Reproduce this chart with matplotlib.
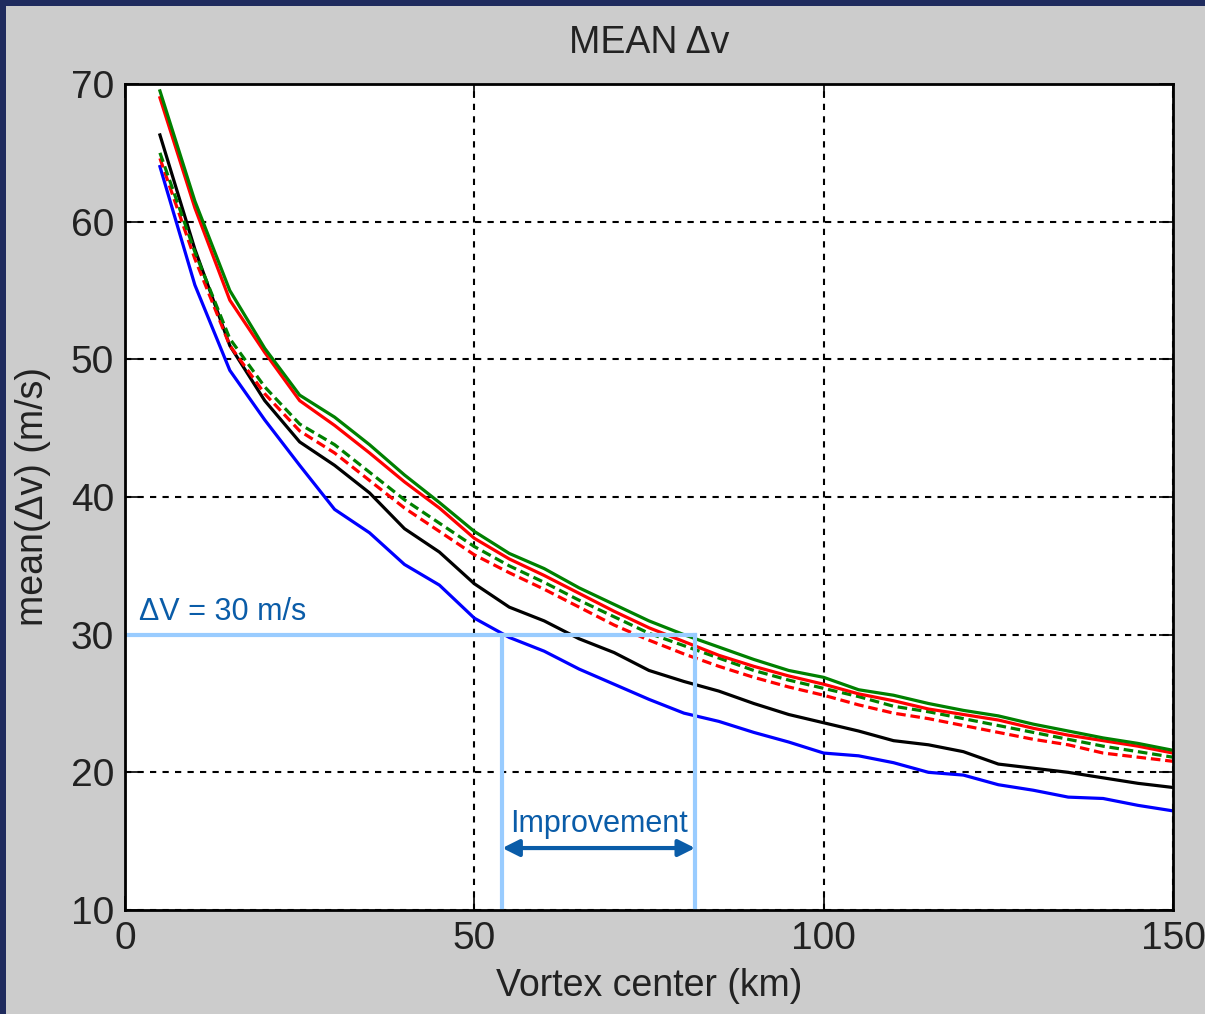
import matplotlib
matplotlib.use("Agg")
import matplotlib.pyplot as plt
from matplotlib.patches import Rectangle

plt.rcParams['font.family'] = ['Liberation Sans', 'DejaVu Sans']

# vortex center distance (km)
dist = [5, 10, 15, 20, 25, 30, 35, 40, 45, 50, 55, 60, 65, 70, 75,
        80, 85, 90, 95, 100, 105, 110, 115, 120, 125, 130, 135, 140, 145, 150]

# mean delta-v (m/s) per series
green_solid = [69.5, 61.5, 55.0, 50.8, 47.4, 45.8, 43.8, 41.6, 39.6, 37.5, 35.9, 34.8, 33.4, 32.2, 31.0,
               30.0, 29.1, 28.2, 27.4, 26.9, 26.0, 25.6, 25.0, 24.5, 24.1, 23.5, 23.0, 22.5, 22.1, 21.6]
red_solid = [69.0, 61.0, 54.3, 50.5, 47.0, 45.2, 43.2, 41.1, 39.2, 37.0, 35.5, 34.3, 33.0, 31.7, 30.5,
             29.5, 28.5, 27.7, 27.0, 26.4, 25.7, 25.2, 24.6, 24.2, 23.8, 23.2, 22.7, 22.3, 21.9, 21.4]
green_dash = [65.0, 57.8, 51.5, 48.0, 45.3, 43.8, 41.8, 39.8, 38.1, 36.4, 35.0, 33.8, 32.5, 31.3, 30.1,
              29.2, 28.3, 27.4, 26.7, 26.1, 25.5, 24.8, 24.4, 23.9, 23.4, 22.9, 22.4, 21.9, 21.5, 21.1]
red_dash = [64.6, 57.3, 51.0, 47.5, 44.8, 43.2, 41.2, 39.2, 37.5, 35.8, 34.5, 33.3, 32.0, 30.7, 29.6,
            28.6, 27.7, 26.9, 26.2, 25.6, 24.9, 24.3, 23.9, 23.4, 22.9, 22.4, 22.0, 21.4, 21.1, 20.8]
black_solid = [66.3, 58.0, 51.0, 47.0, 44.0, 42.3, 40.3, 37.7, 36.0, 33.7, 32.0, 31.0, 29.7, 28.7, 27.4,
               26.6, 25.9, 25.0, 24.2, 23.6, 23.0, 22.3, 22.0, 21.5, 20.6, 20.3, 20.0, 19.6, 19.2, 18.9]
blue_solid = [64.0, 55.4, 49.2, 45.6, 42.3, 39.1, 37.4, 35.1, 33.6, 31.2, 29.8, 28.8, 27.5, 26.4, 25.3,
              24.3, 23.7, 22.9, 22.2, 21.4, 21.2, 20.7, 20.0, 19.8, 19.1, 18.7, 18.2, 18.1, 17.6, 17.2]

# annotation values
dv_level = 30
improve_from = 54.0
improve_to = 81.6

fig = plt.figure(figsize=(12.05, 10.14), dpi=100)
fig.patch.set_facecolor("#1f2b5e")
fig.patches.append(Rectangle((6 / 1205, 0), 1, 1 - 6 / 1014, transform=fig.transFigure,
                             facecolor="#cccccc", edgecolor="none", zorder=-10))

ax = fig.add_axes([125 / 1205, 1 - 910 / 1014, 1048 / 1205, 826 / 1014])
ax.set_zorder(5)
ax.set_facecolor("white")

lw = 2.3
ax.plot(dist, blue_solid, color="#0000ff", lw=lw)
ax.plot(dist, black_solid, color="black", lw=lw)
ax.plot(dist, red_dash, color="#ff0000", lw=lw, ls=(0, (3, 1.5)))
ax.plot(dist, green_dash, color="#008000", lw=lw, ls=(0, (3, 1.5)))
ax.plot(dist, red_solid, color="#ff0000", lw=lw)
ax.plot(dist, green_solid, color="#008000", lw=lw)

# improvement annotation
lc = "#99ccff"
ax.plot([0, improve_to], [dv_level, dv_level], color=lc, lw=3)
ax.plot([improve_from, improve_from], [10, dv_level], color=lc, lw=3)
ax.plot([improve_to, improve_to], [10, dv_level], color=lc, lw=3)
ax.annotate("", xy=(improve_from, 14.5), xytext=(improve_to, 14.5),
            arrowprops=dict(arrowstyle="<|-|>", color="#0a5ca8", lw=3, mutation_scale=25,
                            shrinkA=0, shrinkB=0))
ax.text((improve_from + improve_to) / 2, 15.65, "Improvement", color="#0a5ca8",
        fontsize=22, ha="center", va="baseline")
ax.text(2, 31.1, "ΔV = 30 m/s", color="#0a5ca8", fontsize=22, ha="left", va="baseline")

ax.set_xlim(0, 150)
ax.set_ylim(10, 70)
ax.set_xticks([0, 50, 100, 150])
ax.set_yticks([10, 20, 30, 40, 50, 60, 70])
ax.grid(True, color="black", ls=(0, (3, 3)), lw=1.5)
ax.tick_params(direction="in", length=10, width=1.2, labelsize=28, colors="black",
               labelcolor="#222222", top=True, right=True, pad=8)
for s in ax.spines.values():
    s.set_linewidth(2)

ax.set_title("MEAN Δv", fontsize=27, pad=22, color="#222222")
ax.set_xlabel("Vortex center (km)", fontsize=27, labelpad=8, color="#222222")
ax.set_ylabel("mean(Δv) (m/s)", fontsize=27, labelpad=14, color="#222222")

fig.savefig("out.png", dpi=100, facecolor=fig.get_facecolor())
